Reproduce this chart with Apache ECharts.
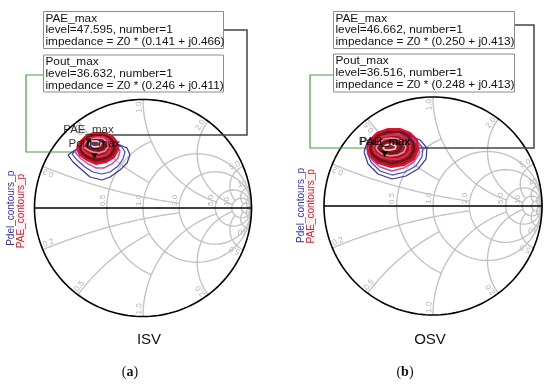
<!DOCTYPE html>
<html><head><meta charset="utf-8">
<script src="https://cdn.jsdelivr.net/npm/echarts/dist/echarts.min.js"></script>
<style>html,body{margin:0;padding:0;background:#fff}#c{width:550px;height:385px}</style>
</head><body><div id="c"></div>
<script>
const FONT = '"Liberation Sans", Arial, sans-serif';
const SERIF = '"Liberation Serif", "DejaVu Serif", serif';

// Smith chart grid definition
const rCircles = [0.5, 1, 2, 5, 10, 20, 50];
const rCircleMaxX = [1, Infinity, Infinity, Infinity, Infinity, Infinity, Infinity];
const xArcs = [0.2, 0.5, 1, 2, 5, 10, 20, 50];
const xArcMaxR = [2, 1, 5, 10, 10, 20, 50, Infinity];
const axisLabelR = [0.5, 1, 2, 5, 10];
const axisLabelText = ['0.5', '1.0', '2.0', '5.0', '10'];
const edgeLabelX = [0.2, 0.5, 1, 2, 5, 10];
const edgeLabelText = ['0.2', '0.5', '1.0', '2.0', '5.0', '10'];

// Markers: [level, r, x] (normalized impedance)
const isvPAEmax = [47.595, 0.141, 0.466];
const isvPoutmax = [36.632, 0.246, 0.411];
const osvPAEmax = [46.662, 0.250, 0.413];
const osvPoutmax = [36.516, 0.248, 0.413];

// Contours (reflection coefficient coordinates)
const isvPdelContours = [
 [[-.691,.488],[-.645,.424],[-.562,.350],[-.488,.286],[-.378,.258],[-.304,.286],[-.212,.350],[-.147,.415],[-.120,.488],[-.147,.553],[-.212,.581],[-.396,.608],[-.535,.581],[-.627,.535]],
 [[-.654,.498],[-.608,.442],[-.535,.378],[-.461,.332],[-.378,.313],[-.304,.332],[-.230,.387],[-.184,.452],[-.166,.516],[-.194,.562],[-.258,.590],[-.396,.599],[-.535,.571],[-.618,.535]],
 [[-.627,.516],[-.581,.461],[-.507,.406],[-.433,.369],[-.359,.369],[-.286,.406],[-.230,.461],[-.212,.525],[-.240,.581],[-.304,.618],[-.424,.627],[-.544,.599],[-.599,.562]]
];
const isvPAEContours = [
 [[-.608,.553],[-.581,.608],[-.525,.664],[-.452,.691],[-.359,.691],[-.286,.664],[-.240,.608],[-.230,.535],[-.267,.470],[-.341,.424],[-.433,.406],[-.516,.442],[-.581,.488]],
 [[-.581,.562],[-.553,.618],[-.507,.654],[-.442,.673],[-.359,.673],[-.304,.645],[-.267,.599],[-.267,.535],[-.304,.479],[-.369,.452],[-.442,.442],[-.516,.470],[-.562,.516]],
 [[-.562,.571],[-.535,.618],[-.488,.645],[-.433,.654],[-.359,.654],[-.313,.627],[-.295,.581],[-.304,.525],[-.341,.488],[-.406,.470],[-.470,.479],[-.525,.507],[-.553,.535]],
 [[-.544,.581],[-.516,.618],[-.470,.636],[-.415,.645],[-.359,.636],[-.332,.608],[-.323,.562],[-.350,.525],[-.406,.507],[-.461,.516],[-.507,.535],[-.535,.553]],
 [[-.525,.590],[-.498,.618],[-.452,.627],[-.406,.627],[-.369,.618],[-.350,.581],[-.369,.553],[-.415,.535],[-.470,.544],[-.507,.562]],
 [[-.498,.599],[-.470,.618],[-.424,.618],[-.387,.599],[-.396,.571],[-.442,.562],[-.479,.571]]
];
const osvPdelContours = [
 [[-.633,.495],[-.596,.385],[-.505,.294],[-.376,.248],[-.248,.275],[-.138,.339],[-.064,.431],[-.055,.532],[-.119,.606],[-.248,.661],[-.394,.670],[-.523,.642],[-.606,.578]],
 [[-.606,.495],[-.569,.404],[-.486,.321],[-.376,.284],[-.257,.312],[-.156,.367],[-.101,.450],[-.092,.532],[-.147,.596],[-.257,.642],[-.394,.651],[-.505,.624],[-.578,.569]],
 [[-.596,.514],[-.560,.422],[-.486,.358],[-.376,.321],[-.266,.349],[-.174,.404],[-.128,.477],[-.128,.550],[-.183,.615],[-.284,.661],[-.394,.679],[-.495,.651],[-.569,.587]]
];
const osvPAEContours = [
 [[-.606,.532],[-.578,.606],[-.514,.670],[-.413,.706],[-.303,.706],[-.211,.670],[-.147,.606],[-.138,.514],[-.174,.431],[-.266,.376],[-.385,.358],[-.505,.394],[-.578,.459]],
 [[-.578,.532],[-.550,.596],[-.495,.651],[-.404,.679],[-.303,.679],[-.229,.642],[-.183,.587],[-.174,.514],[-.211,.450],[-.284,.413],[-.385,.394],[-.486,.422],[-.550,.468]],
 [[-.550,.532],[-.523,.587],[-.477,.633],[-.394,.651],[-.312,.651],[-.248,.615],[-.211,.569],[-.211,.505],[-.248,.459],[-.312,.431],[-.394,.431],[-.477,.450],[-.532,.486]],
 [[-.523,.532],[-.495,.578],[-.450,.615],[-.385,.624],[-.321,.615],[-.275,.587],[-.248,.541],[-.266,.495],[-.321,.468],[-.394,.459],[-.468,.477],[-.505,.505]],
 [[-.495,.532],[-.468,.569],[-.422,.596],[-.367,.596],[-.312,.578],[-.294,.541],[-.312,.505],[-.367,.486],[-.431,.495],[-.477,.505]],
 [[-.459,.532],[-.431,.560],[-.385,.569],[-.339,.550],[-.349,.523],[-.394,.514],[-.440,.514]]
];

const pdelColors = ['#35359a', '#4646b0', '#c04aa8'];
const pdelWidths = [1.2, 1.2, 1.4];
const paeFill = '#9a1c2c';
const paeColors = ['#e01230', '#6e1216', '#e32a42', '#f28aa6', '#6e1216', '#fbe2d2'];
const paeWidths = [2.2, 2.2, 2.0, 1.5, 2.0, 1.5];

function zToG(r, x) { const a = r + 1, den = a * a + x * x; return [(r * r - 1 + x * x) / den, 2 * x / den]; }

function gridCurves() {
  const curves = [];
  rCircles.forEach((r, i) => {
    const X = rCircleMaxX[i]; const sm = isFinite(X) ? X / (X + 1) : 0.9996;
    const pts = []; const N = 260;
    for (let k = 0; k <= N; k++) { const s = -sm + 2 * sm * k / N; const x = s / (1 - Math.abs(s)); pts.push(zToG(r, x)); }
    curves.push(pts);
  });
  xArcs.forEach((xv, i) => {
    const R = xArcMaxR[i]; const sm = isFinite(R) ? R / (R + 1) : 0.9996;
    [1, -1].forEach(sg => {
      const pts = []; const N = 180;
      for (let k = 0; k <= N; k++) { const s = sm * k / N; const r = s / (1 - s); pts.push(zToG(r, sg * xv)); }
      curves.push(pts);
    });
  });
  return curves;
}

function gridLabels() {
  const items = [];
  axisLabelR.forEach((r, i) => items.push({ g: [(r - 1) / (r + 1), 0], text: axisLabelText[i], rot: Math.PI / 2, align: 'left', ox: -0.5, oy: -2 }));
  edgeLabelX.forEach((xv, i) => {
    [1, -1].forEach(sg => {
      const e = zToG(0, sg * xv), f = zToG(0.05, sg * xv);
      let ux = f[0] - e[0], uy = f[1] - e[1]; const L = Math.hypot(ux, uy); ux /= L; uy /= L;
      const ang = Math.atan2(uy, ux);
      const rot = sg < 0 ? ang : ang + Math.PI;
      const align = sg < 0 ? 'left' : 'right';
      items.push({ g: e, text: edgeLabelText[i], rot, align, ox: ux * 2, oy: -uy * 2 });
    });
  });
  return items;
}

const panels = [
  { grid: { left: 34.5, top: 99.5, width: 217, height: 217 }, pdel: isvPdelContours, pae: isvPAEContours, markers: [['PAE_max', isvPAEmax], ['Pout_max', isvPoutmax]] },
  { grid: { left: 324, top: 97, width: 218, height: 218 }, pdel: osvPdelContours, pae: osvPAEContours, markers: [['PAE_max', osvPAEmax], ['Pout_max', osvPoutmax]] }
];

const series = [];
const curves = gridCurves();
const labels = gridLabels();
const outer = []; for (let k = 0; k <= 360; k++) { const t = k * Math.PI / 180; outer.push([Math.cos(t), Math.sin(t)]); }

function line(gi, data, color, width, z) {
  return { type: 'line', xAxisIndex: gi, yAxisIndex: gi, data, symbol: 'none', showSymbol: false, silent: true, animation: false, clip: false, z, lineStyle: { color, width } };
}

panels.forEach((p, gi) => {
  curves.forEach(c => series.push(line(gi, c, '#c2c2c2', 1.35, 1)));
  series.push({
    type: 'custom', coordinateSystem: 'cartesian2d', xAxisIndex: gi, yAxisIndex: gi, silent: true, animation: false, z: 1,
    data: labels.map((l, i) => [l.g[0], l.g[1], i]), encode: { x: 0, y: 1 },
    renderItem: (params, api) => {
      const it = labels[api.value(2)];
      const pt = api.coord([api.value(0), api.value(1)]);
      return { type: 'text', x: pt[0] + it.ox, y: pt[1] + it.oy, rotation: it.rot,
        style: { text: it.text, fill: '#b0b0b0', font: '8px ' + FONT, textAlign: it.align, textVerticalAlign: 'bottom', align: it.align, verticalAlign: 'bottom' } };
    }
  });
  series.push(line(gi, outer, '#000', 1.6, 1));
  series.push(line(gi, [[-1, 0], [1, 0]], '#000', 1.6, 1));
  p.pdel.forEach((c, i) => series.push(line(gi, c.concat([c[0]]), pdelColors[i], pdelWidths[i], 3)));
  const fillPoly = p.pae[0];
  series.push({
    type: 'custom', coordinateSystem: 'cartesian2d', xAxisIndex: gi, yAxisIndex: gi, silent: true, animation: false, z: 3,
    data: [[fillPoly[0][0], fillPoly[0][1]]], encode: { x: 0, y: 1 },
    renderItem: (params, api) => ({ type: 'polygon', shape: { points: fillPoly.map(pt => api.coord(pt)) }, style: { fill: paeFill } })
  });
  p.pae.forEach((c, i) => series.push(line(gi, c.concat([c[0]]), paeColors[i], paeWidths[i], 3)));
  series.push({
    type: 'scatter', xAxisIndex: gi, yAxisIndex: gi, animation: false, silent: true, z: 5,
    symbol: 'triangle', symbolRotate: 180, symbolSize: 6, itemStyle: { color: '#000' },
    data: p.markers.map(m => ({ name: m[0], value: zToG(m[1][1], m[1][2]) })),
    label: { show: true, position: 'top', distance: 3, formatter: '{b}', color: '#000', fontSize: 11.5, fontFamily: FONT }
  });
});

function boxText(name, m) {
  return name + '\nlevel=' + m[0].toFixed(3) + ', number=1\nimpedance = Z0 * (' + m[1].toFixed(3) + ' + j' + m[2].toFixed(3) + ')';
}
function box(x, y, w, h, txt) {
  return [
    { type: 'rect', shape: { x, y, width: w, height: h }, style: { fill: '#fff', stroke: '#8c8c8c', lineWidth: 1 }, z: 10 },
    { type: 'text', x: x + 2, y: y + 1, style: { text: txt, font: '11.8px ' + FONT, fill: '#111', textAlign: 'left', textVerticalAlign: 'top', lineHeight: 11.7 }, z: 11 }
  ];
}
function poly(points, color, w) {
  return { type: 'polyline', shape: { points }, style: { stroke: color, lineWidth: w, fill: null }, z: 2 };
}
function rtext(x, y, txt, color, bg) {
  return { type: 'text', x, y, rotation: Math.PI / 2, style: { text: txt, font: '10px ' + FONT, fill: color, textAlign: 'center', textVerticalAlign: 'middle', backgroundColor: bg || null }, z: 6 };
}
function ctext(x, y, txt, font) {
  return { type: 'text', x, y, style: { text: txt, font, fill: '#111', textAlign: 'center', textVerticalAlign: 'middle' }, z: 6 };
}
function figLabel(x, y, letter) {
  return { type: 'text', x, y, style: { text: '{n|(}{b|' + letter + '}{n|)}', textAlign: 'center', textVerticalAlign: 'middle', rich: { n: { font: '14px ' + SERIF, fill: '#111' }, b: { font: 'bold 14px ' + SERIF, fill: '#111' } } }, z: 6 };
}

const graphic = [].concat(
  poly([[223.5, 30], [247, 30], [247, 135], [95, 135]], '#444', 1.5),
  poly([[43.5, 75], [26, 75], [26, 152], [90, 152]], '#4f9a4f', 1.2),
  poly([[514.5, 25], [534, 25], [534, 148], [387, 148]], '#444', 1.5),
  poly([[333.5, 75], [310, 75], [310, 148], [380, 148]], '#4f9a4f', 1.2),
  box(43.5, 11.5, 180, 37, boxText('PAE_max', isvPAEmax)),
  box(43.5, 55, 180, 37, boxText('Pout_max', isvPoutmax)),
  box(333.5, 11.5, 181, 37, boxText('PAE_max', osvPAEmax)),
  box(333.5, 54, 181, 38, boxText('Pout_max', osvPoutmax)),
  rtext(11.7, 208.3, 'Pdel_contours_p', '#35359a'),
  rtext(21.7, 211, 'PAE_contours_p', '#b0343a', '#fdeef2'),
  rtext(301.3, 205.5, 'Pdel_contours_p', '#35359a'),
  rtext(310.8, 206.3, 'PAE_contours_p', '#b0343a', '#fdeef2'),
  ctext(149, 340, 'ISV', '15px ' + FONT),
  ctext(430, 340, 'OSV', '15px ' + FONT),
  figLabel(130, 372, 'a'),
  figLabel(405, 372, 'b')
);

const chart = echarts.init(document.getElementById('c'), null, { renderer: 'canvas' });
chart.setOption({
  animation: false,
  backgroundColor: '#fff',
  grid: panels.map(p => Object.assign({ containLabel: false }, p.grid)),
  xAxis: panels.map((p, i) => ({ gridIndex: i, type: 'value', min: -1, max: 1, show: false })),
  yAxis: panels.map((p, i) => ({ gridIndex: i, type: 'value', min: -1, max: 1, show: false })),
  series,
  graphic
});
</script></body></html>
